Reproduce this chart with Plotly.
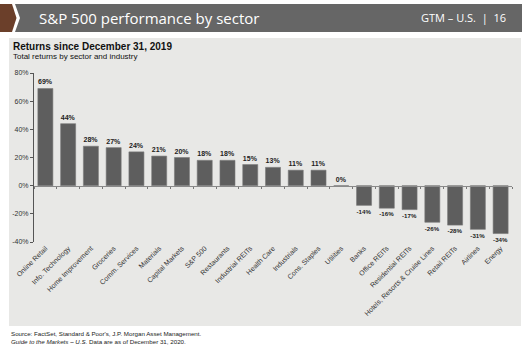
import plotly.graph_objects as go

# Sector / industry returns since Dec 31, 2019 (percent)
categories = [
    "Online Retail", "Info. Technology", "Home Improvement", "Groceries",
    "Comm. Services", "Materials", "Capital Markets", "S&P 500", "Restaurants",
    "Industrial REITs", "Health Care", "Industrials", "Cons. Staples", "Utilities",
    "Banks", "Office REITs", "Residential REITs", "Hotels, Resorts & Cruise Lines",
    "Retail REITs", "Airlines", "Energy",
]
returns = [69, 44, 28, 27, 24, 21, 20, 18, 18, 15, 13, 11, 11, 0,
           -14, -16, -17, -26, -28, -31, -34]
y_ticks = [-40, -20, 0, 20, 40, 60, 80]
y_tick_text = [f"{v}%" for v in y_ticks]

W, H = 530, 349
ML, MR, MT, MB = 34, 18, 73, 107
PW, PH = W - ML - MR, H - MT - MB


def px(x):
    return (x - ML) / PW


def py(y):
    return (H - MB - y) / PH


positions = list(range(len(categories)))
boundaries = [p - 0.5 for p in positions] + [positions[-1] + 0.5]

fig = go.Figure()
fig.add_trace(go.Bar(
    x=positions, y=returns,
    marker=dict(color="#5e5e5e", line=dict(color="#7a7a7a", width=0.6)),
    width=0.66,
    text=[f"<b>{v}%</b>" for v in returns],
    textposition="outside",
    cliponaxis=False,
    textfont=dict(family="Liberation Sans, Arial", size=7, color="#222222"),
    hoverinfo="skip",
))
# Invisible trace to carry the zero-line axis with boundary ticks
fig.add_trace(go.Scatter(x=[positions[0], positions[-1]], y=[0, 0], xaxis="x2",
                         mode="lines", line=dict(width=0), hoverinfo="skip",
                         showlegend=False))

shapes = [
    # light panel behind the chart
    dict(type="rect", xref="paper", yref="paper", x0=px(9), x1=px(521),
         y0=py(326), y1=py(38), fillcolor="#e8e8e6", line=dict(width=0),
         layer="below"),
    # header band
    dict(type="path", xref="paper", yref="paper",
         path=f"M {px(15)},{py(4)} L {px(522)},{py(4)} L {px(522)},{py(32)} "
              f"L {px(15)},{py(32)} L {px(20)},{py(18)} Z",
         fillcolor="#666666", line=dict(width=0), layer="below"),
    dict(type="path", xref="paper", yref="paper",
         path=f"M {px(0)},{py(4)} L {px(12)},{py(4)} L {px(16.5)},{py(18)} "
              f"L {px(12)},{py(32)} L {px(0)},{py(32)} Z",
         fillcolor="#6b3f2a", line=dict(width=0), layer="below"),
]

annotations = [
    dict(text="S&P 500 performance by sector", x=px(37), y=py(18),
         xanchor="left", yanchor="middle",
         font=dict(family="Open Sans", size=15, color="white")),
    dict(text="GTM – U.S.  |  16", x=px(508), y=py(18),
         xanchor="right", yanchor="middle",
         font=dict(family="Open Sans", size=11, color="white")),
    dict(text="<b>Returns since December 31, 2019</b>", x=px(11), y=py(46),
         xanchor="left", yanchor="middle",
         font=dict(family="Liberation Sans, Arial", size=10, color="#111111")),
    dict(text="Total returns by sector and industry", x=px(11), y=py(57),
         xanchor="left", yanchor="middle",
         font=dict(family="Liberation Sans, Arial", size=8, color="#111111")),
    dict(text="Source: FactSet, Standard & Poor's, J.P. Morgan Asset Management.",
         x=px(9), y=py(333), xanchor="left", yanchor="middle",
         font=dict(family="Liberation Sans, Arial", size=6.2, color="#222222")),
    dict(text="<i>Guide to the Markets – U.S.</i> Data are as of December 31, 2020.",
         x=px(9), y=py(341), xanchor="left", yanchor="middle",
         font=dict(family="Liberation Sans, Arial", size=6.2, color="#222222")),
]
for a in annotations:
    a.update(xref="paper", yref="paper", showarrow=False)

fig.update_layout(
    width=W, height=H,
    margin=dict(l=ML, r=MR, t=MT, b=MB),
    paper_bgcolor="white",
    plot_bgcolor="rgba(0,0,0,0)",
    showlegend=False,
    bargap=0.34,
    shapes=shapes,
    annotations=annotations,
    xaxis=dict(
        range=[-0.5, len(categories) - 0.5],
        tickvals=positions, ticktext=categories,
        tickangle=-45, ticks="", showline=False, showgrid=False, zeroline=False,
        tickfont=dict(family="Liberation Sans, Arial", size=7, color="#333333"),
        fixedrange=True,
    ),
    xaxis2=dict(
        overlaying="x", matches="x", anchor="free", position=1 / 3,
        tickvals=boundaries, showticklabels=False, ticks="outside",
        ticklen=2, tickcolor="#777777", tickwidth=1,
        showline=True, linecolor="#8a8a8a", linewidth=1,
        showgrid=False, zeroline=False,
    ),
    yaxis=dict(
        range=[-40, 80], tickvals=y_ticks, ticktext=y_tick_text,
        showline=True, linecolor="#555555", linewidth=1,
        ticks="outside", ticklen=3, tickcolor="#555555",
        showgrid=False, zeroline=False,
        tickfont=dict(family="Liberation Sans, Arial", size=7, color="#333333"),
        fixedrange=True,
    ),
)

fig.write_html("out.html")
